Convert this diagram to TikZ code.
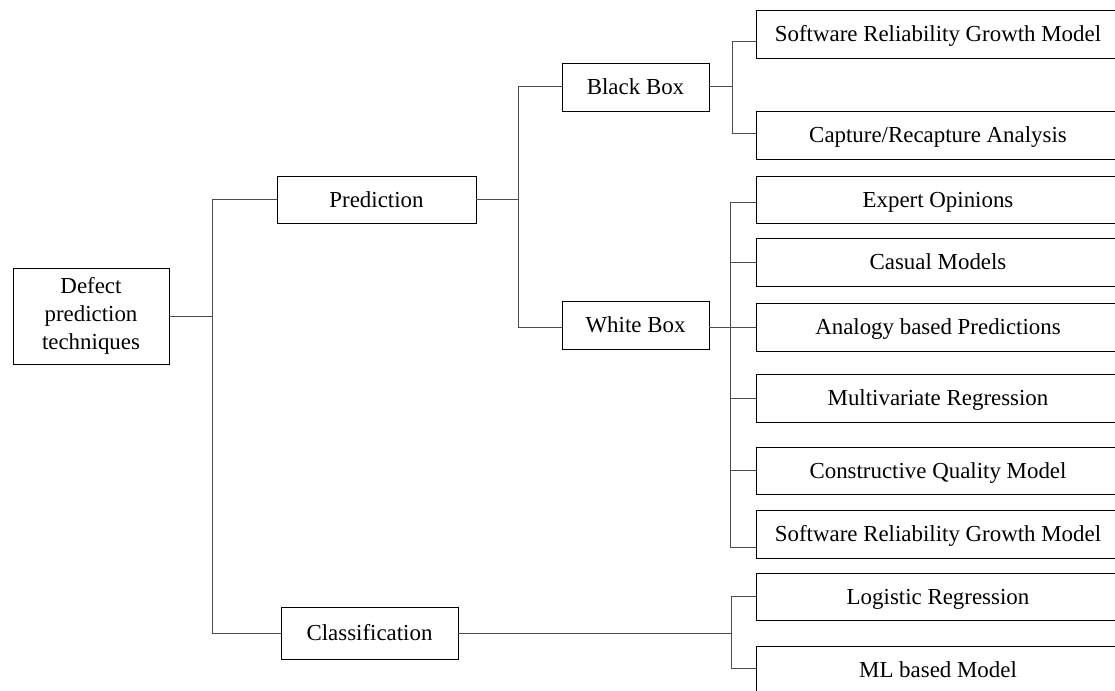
\documentclass[tikz,border=0pt]{standalone}
\usepackage{fontspec}
\setmainfont{Liberation Serif}
\usetikzlibrary{calc}
\tikzset{
  box/.style={draw=black, line width=0.9pt, fill=white, inner sep=0pt, align=center,
    font=\fontsize{22.9}{28.3}\selectfont},
  onebox/.style={box, text height=20pt, text depth=4.6pt},
  leaf/.style={onebox, minimum width=364pt, minimum height=48pt},
  link/.style={draw=black!70, line width=1pt},
}
\begin{document}
\begin{tikzpicture}[x=1pt,y=-1pt]
\useasboundingbox (0,0) rectangle (1115,690);
\clip (0,0) rectangle (1115,690);

% main branches
\node[box, minimum width=156pt, minimum height=96pt] (root) at (91,316) {Defect\\prediction\\techniques};
\node[onebox, minimum width=199pt, minimum height=47pt] (pred) at (376.5,199.5) {Prediction};
\node[onebox, minimum width=177pt, minimum height=52pt] (cls) at (369.5,633) {Classification};
\node[onebox, minimum width=147pt, minimum height=48pt] (bb) at (635.5,87) {Black Box};
\node[onebox, minimum width=147pt, minimum height=48pt] (wb) at (635.5,325) {White Box};

% leaf techniques
\node[leaf] (srg1) at (938,34)    {Software Reliability Growth Model};
\node[leaf] (cap)  at (938,135)   {Capture/Recapture Analysis};
\node[leaf, minimum height=47pt] (exp)  at (938,199.5) {Expert Opinions};
\node[leaf] (cas)  at (938,262)   {Casual Models};
\node[leaf] (ana)  at (938,327)   {Analogy based Predictions};
\node[leaf] (mvr)  at (938,398)   {Multivariate Regression};
\node[leaf, minimum height=47pt] (cqm)  at (938,470.5) {Constructive Quality Model};
\node[leaf] (srg2) at (938,534)   {Software Reliability Growth Model};
\node[leaf, minimum height=47pt] (log)  at (938,596.5) {Logistic Regression};
\node[leaf] (ml)   at (938,670)   {ML based Model};

% root split
\draw[link] (root.east) -- ++(43,0) coordinate (rj);
\draw[link] (pred.west) -| (rj) |- (cls.west);

% prediction split
\draw[link] (pred.east) -- ++(42,0) coordinate (pj);
\draw[link] (bb.west) -| (pj) |- ([yshift=-2pt]wb.west);

% black box split
\draw[link] (bb.east) -- ++(23,0) coordinate (bj);
\draw[link] ([yshift=-8pt]srg1.west) -| (bj) |- ([yshift=2pt]cap.west);

% white box split
\draw[link] ([yshift=-2pt]wb.east) -- (ana.west);
\coordinate (wj) at ($(wb.east)+(21,0)$);
\draw[link] ([yshift=-2.5pt]exp.west) -| (wj) |- ([yshift=-13pt]srg2.west);
\draw[link] (cas.west) -- (cas.west -| wj);
\draw[link] (mvr.west) -- (mvr.west -| wj);
\draw[link] (cqm.west) -- (cqm.west -| wj);

% classification split
\draw[link] (cls.east) -- ++(273,0) coordinate (cj);
\draw[link] (log.west) -| (cj) |- ([yshift=2pt]ml.west);
\end{tikzpicture}
\end{document}
